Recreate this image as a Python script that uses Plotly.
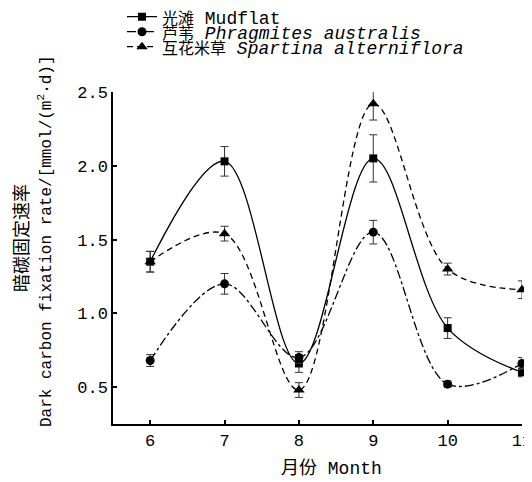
import plotly.graph_objects as go

months = [6, 7, 8, 9, 10, 11]

mudflat = [1.35, 2.03, 0.66, 2.05, 0.90, 0.60]
mudflat_err = [0.07, 0.10, 0.06, 0.16, 0.07, 0.03]

phrag = [0.68, 1.20, 0.70, 1.55, 0.52, 0.66]
phrag_err = [0.04, 0.07, 0.04, 0.08, 0.02, 0.04]

spart = [1.35, 1.54, 0.48, 2.42, 1.30, 1.16]
spart_err = [0.07, 0.05, 0.05, 0.11, 0.04, 0.06]

names_cn = ["光滩", "芦苇", "互花米草"]
names_en = ["Mudflat", "<i>Phragmites australis</i>", "<i>Spartina alterniflora</i>"]

xticks = [6, 7, 8, 9, 10, 11]
yticks = [0.5, 1.0, 1.5, 2.0, 2.5]
ytick_text = ["0.5", "1.0", "1.5", "2.0", "2.5"]

ytitle_cn = "暗碳固定速率"
ytitle_en = "Dark carbon fixation rate/[mmol/(m<sup>2</sup>·d)]"
xtitle = "月份 Month"

FONT = "Liberation Mono, Noto Sans CJK SC, monospace"
# The page body has an 8px default margin, so the figure is drawn 8px in
PAGE_W, PAGE_H, OFF = 532, 482, 8
W, H = PAGE_W - OFF, PAGE_H - OFF
# plot area in page pixels
PL, PR, PT, PB = 113, 522, 92, 424
L, T = PL - OFF, PT - OFF
R, B = W - (PR - OFF), H - (PB - OFF)
PW, PH = PR - PL, PB - PT


def px(xp):
    return (xp - PL) / PW


def py(yp):
    return (PB - yp) / PH


series = [
    (mudflat, mudflat_err, "square", "solid", 8, "legend"),
    (phrag, phrag_err, "circle", "dashdot", 9, "legend2"),
    (spart, spart_err, "triangle-up", "6px,4px", 10, "legend3"),
]

fig = go.Figure()
for (vals, err, sym, dash, msize, leg), cn, en in zip(series, names_cn, names_en):
    fig.add_trace(go.Scatter(
        x=months, y=vals,
        name="<span style='font-size:16px'>" + cn + "</span> " + en,
        mode="lines+markers",
        line=dict(color="black", width=1.3, dash=dash, shape="spline", smoothing=1.0),
        marker=dict(symbol=sym, size=msize, color="black"),
        error_y=dict(type="data", array=err, visible=True, color="#333333",
                     thickness=1, width=4),
        cliponaxis=False,
        legend=leg,
    ))

rows = [17, 32, 47]
leg_common = dict(x=px(122), xanchor="left", yanchor="middle",
                  bgcolor="rgba(0,0,0,0)", borderwidth=0, itemwidth=30,
                  font=dict(family=FONT, size=18, color="black"))
legs = {}
for key, r in zip(["legend", "legend2", "legend3"], rows):
    legs[key] = dict(leg_common, y=py(r))

fig.update_layout(
    width=W, height=H,
    margin=dict(l=L, r=R, t=T, b=B, autoexpand=False),
    paper_bgcolor="white", plot_bgcolor="white",
    font=dict(family=FONT, size=16, color="black"),
    showlegend=True,
    **legs,
    xaxis=dict(range=[5.5, 11], tickmode="array", tickvals=xticks,
               ticks="inside", ticklen=4, tickwidth=1.5, tickcolor="black",
               showline=True, linecolor="black", linewidth=1.5,
               showgrid=False, zeroline=False, ticklabeloverflow="allow",
               tickfont=dict(family=FONT, size=17)),
    yaxis=dict(range=[0.25, 2.5], tickmode="array", tickvals=yticks, ticktext=ytick_text,
               ticks="inside", ticklen=4, tickwidth=1.5, tickcolor="black",
               showline=True, linecolor="black", linewidth=1.5,
               showgrid=False, zeroline=False,
               tickfont=dict(family=FONT, size=17)),
    annotations=[
        dict(text=ytitle_cn, xref="paper", yref="paper", x=px(22), y=py(238),
             xanchor="center", yanchor="middle", textangle=-90, showarrow=False,
             font=dict(family=FONT, size=18)),
        dict(text=ytitle_en, xref="paper", yref="paper", x=px(45), y=py(241),
             xanchor="center", yanchor="middle", textangle=-90, showarrow=False,
             font=dict(family=FONT, size=16)),
        dict(text=xtitle, xref="paper", yref="paper", x=px(331), y=py(468),
             xanchor="center", yanchor="middle", showarrow=False,
             font=dict(family=FONT, size=18)),
    ],
)

fig.write_html("out.html")
